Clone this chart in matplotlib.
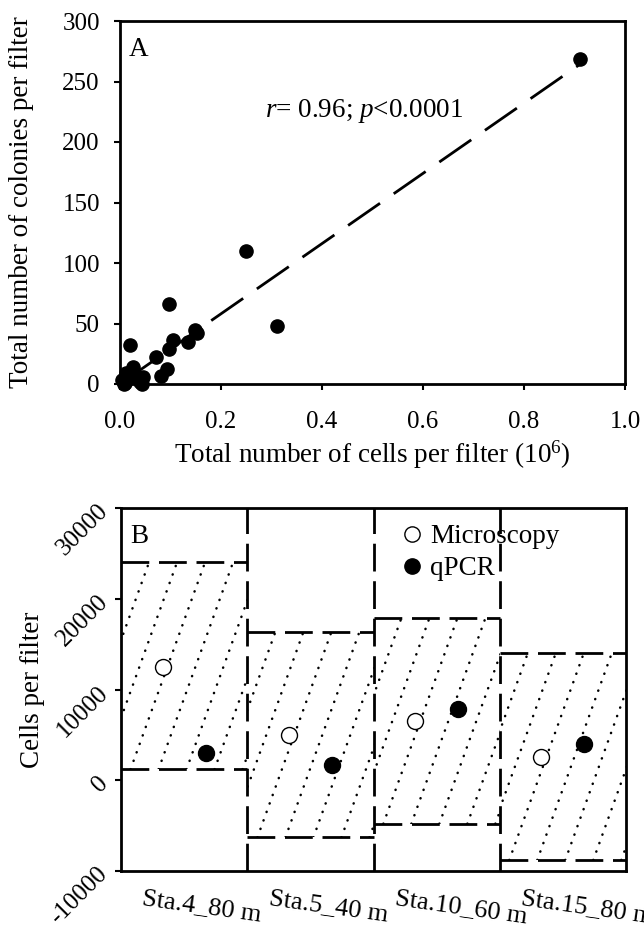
import numpy as np
import matplotlib.pyplot as plt
from matplotlib.patches import Rectangle
from matplotlib.lines import Line2D
import matplotlib.transforms as mtransforms

plt.rcParams['font.family'] = ['Liberation Serif', 'DejaVu Serif']
plt.rcParams['mathtext.fontset'] = 'custom'
plt.rcParams['mathtext.rm'] = 'Liberation Serif'
plt.rcParams['mathtext.it'] = 'Liberation Serif:italic'

# --- panel A: colonies vs cells (10^6 cells per filter)
cells = [0.91, 0.25, 0.31, 0.098, 0.02, 0.148, 0.152, 0.104, 0.098, 0.135,
         0.071, 0.094, 0.081, 0.026, 0.003, 0.010, 0.016, 0.043, 0.046,
         0.033, 0.007, 0.028, 0.012, 0.040]
colonies = [269, 110, 48, 66, 32, 45, 42, 36, 29, 35,
            22, 12, 7, 14, 3, 1, 6, 0, 6,
            5, 0, 9, 9, 2]
fit_x = [0.0, 0.91]
fit_y = [0.0, 264.0]

# --- panel B: cells per filter by station
stations = ['Sta.4_80 m', 'Sta.5_40 m', 'Sta.10_60 m', 'Sta.15_80 m']
sd_low = [1200, -6300, -4800, -8800]
sd_high = [24000, 16300, 17900, 14000]
microscopy = [12500, 5000, 6500, 2600]
qpcr = [2950, 1700, 7800, 4000]
b_yticks = [-10000, 0, 10000, 20000, 30000]
b_yticklabels = ['-10000', '0', '10000', '20000', '30000']

FS_TICK = 18
FS = 19.5
W, H = 644, 932
fig = plt.figure(figsize=(6.44, 9.32), dpi=100)

# ---------------- panel A
ax1 = fig.add_axes([120 / W, 1 - 384 / H, 505 / W, 363 / H])
ax1.plot(fit_x, fit_y, color='black', lw=2, ls=(0, (14, 6)), zorder=2)
ax1.plot(cells, colonies, 'o', color='black', ms=9.5, zorder=3, clip_on=False)
ax1.set_xlim(0, 1.0)
ax1.set_ylim(0, 300)
ax1.set_xticks(np.arange(0, 1.01, 0.2))
ax1.set_xticklabels(['0.0', '0.2', '0.4', '0.6', '0.8', '1.0'])
ax1.set_yticks(np.arange(0, 301, 50))
ax1.tick_params(direction='out', length=4.5, width=1.5, pad=10, labelsize=FS_TICK)
ax1.tick_params(axis='x', pad=15)
for s in ax1.spines.values():
    s.set_linewidth(2)
ax1.set_ylabel('Total number of colonies per filter', fontsize=FS)
ax1.yaxis.set_label_coords(-0.17, 0.5)
ax1.set_xlabel('Total number of cells per filter (10$^{6}$)', fontsize=FS)
ax1.xaxis.set_label_coords(0.5, -0.15)
ax1.text(0.018, 0.955, 'A', transform=ax1.transAxes, fontsize=FS, va='top', ha='left')
ax1.text(0.287, 226, r'$\mathit{r}$= 0.96; $\mathit{p}$<0.0001', fontsize=FS,
         ha='left', va='center')

# ---------------- panel B
ax2 = fig.add_axes([121 / W, 1 - 871 / H, 505 / W, 363 / H])
xpos = np.arange(len(stations))
ax2.set_xlim(-0.5, len(stations) - 0.5)
ax2.set_ylim(-10000, 30000)

# dotted diagonal fill inside each SD box
bb = ax2.get_window_extent()
px_x = bb.width / len(stations)
px_y = bb.height / 40000.0
slope = 0.36 * px_y / px_x
gap = 28.0 / px_x
for i, (lo, hi) in enumerate(zip(sd_low, sd_high)):
    rect = Rectangle((i - 0.5, lo), 1.0, hi - lo, facecolor='none', edgecolor='none')
    ax2.add_patch(rect)
    rise = slope * (hi - lo)
    for c in np.arange(i - 0.5 - rise - gap, i + 0.5 + gap, gap):
        ln, = ax2.plot([c, c + rise], [lo, hi], color='black', lw=1.8,
                       ls=(0, (0.1, 3.5)), dash_capstyle='round')
        ln.set_clip_path(rect)

dash = (0, (10, 3.5))
ax2.hlines(sd_high, xpos - 0.5, xpos + 0.5, color='black', lw=2, ls=dash)
ax2.hlines(sd_low, xpos - 0.5, xpos + 0.5, color='black', lw=2, ls=dash)
for b in xpos[:-1] + 0.5:
    ax2.axvline(b, color='black', lw=2, ls=dash)

ax2.plot(xpos - 0.17, microscopy, 'o', mfc='white', mec='black', mew=1, ms=11.5, zorder=4)
ax2.plot(xpos + 0.17, qpcr, 'o', color='black', ms=11.5, zorder=4)

handles = [Line2D([], [], marker='o', ls='none', mfc='white', mec='black', mew=1, ms=11),
           Line2D([], [], marker='o', ls='none', color='black', ms=11)]
ax2.legend(handles, ['Microscopy', 'qPCR'], loc='upper left', bbox_to_anchor=(0.556, 0.955),
           frameon=False, fontsize=FS, handlelength=0.75, handletextpad=0.3,
           labelspacing=0.25, borderpad=0, borderaxespad=0)

ax2.set_yticks(b_yticks)
ax2.set_yticklabels(b_yticklabels)
ax2.set_xticks(xpos)
ax2.set_xticklabels(stations)
ax2.tick_params(axis='y', direction='out', length=4, width=1.5, pad=8, labelsize=FS_TICK)
ax2.tick_params(axis='x', length=0, pad=12, labelsize=19)
plt.setp(ax2.get_yticklabels(), rotation=45, ha='right', va='center', rotation_mode='anchor')
shift = mtransforms.ScaledTranslation(-0.40, 0, fig.dpi_scale_trans)
for lab in ax2.get_xticklabels():
    lab.set_rotation(-8)
    lab.set_ha('left')
    lab.set_va('top')
    lab.set_rotation_mode('anchor')
    lab.set_transform(lab.get_transform() + shift)
for s in ax2.spines.values():
    s.set_linewidth(2)
ax2.set_ylabel('Cells per filter', fontsize=FS)
ax2.yaxis.set_label_coords(-0.15, 0.5)
ax2.text(0.018, 0.955, 'B', transform=ax2.transAxes, fontsize=FS, va='top', ha='left')

fig.savefig('out.png', dpi=100)
